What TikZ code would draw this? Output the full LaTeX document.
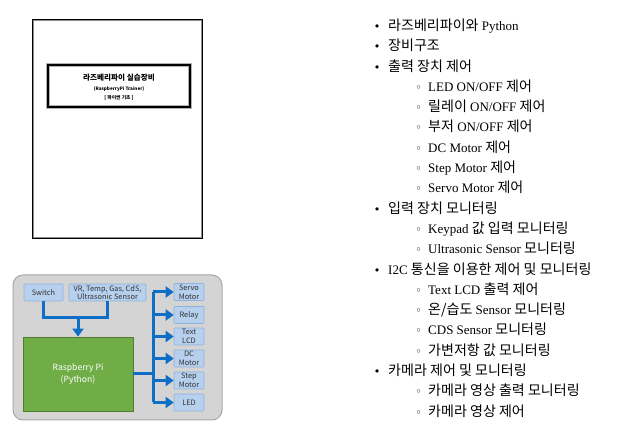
\documentclass[tikz,border=0pt]{standalone}
\usepackage{fontspec}
\setmainfont{Liberation Serif}
\newfontfamily\kr[Scale=1.08]{Noto Sans CJK KR}
\newfontfamily\krd{Noto Sans CJK KR}
\newfontfamily\bul{DejaVu Sans}
\usetikzlibrary{arrows.meta}
\definecolor{bgray}{HTML}{D4D4D4}
\definecolor{bedge}{HTML}{A8A8A8}
\definecolor{boxblue}{HTML}{B7D0EE}
\definecolor{boxedge}{HTML}{8FB2DC}
\definecolor{arrblue}{HTML}{0F6FC6}
\definecolor{rpgreen}{HTML}{70AD47}
\definecolor{rpedge}{HTML}{4F7F2E}
\tikzset{
  item/.style={anchor=base west,inner sep=0pt,font=\fontsize{13}{15}\selectfont},
  bl/.style={anchor=base,inner sep=0pt,font=\bul\fontsize{11}{12}\selectfont},
  blk/.style={rounded corners=0.8pt,draw=boxedge,line width=0.6pt,fill=boxblue,inner sep=0pt,
     align=center,font=\krd\fontsize{7.4}{8.6}\selectfont,text=black!80},
  rbox/.style={blk,minimum width=30pt,minimum height=17pt},
  bus/.style={draw=arrblue,line width=3pt},
  tip/.style={-{Triangle[length=8pt,width=11pt]}}
}
\begin{document}
\begin{tikzpicture}[x=1pt,y=-1pt]
\useasboundingbox (0,0) rectangle (619,443);
\fill[white] (0,0) rectangle (619,443);
% book cover
\draw[black!45,line width=0.6pt] (33,20) rectangle (201,237);
\draw[black,line width=0.9pt] (32,19) rectangle (202,238);
\draw[black!30,line width=3.2pt] (48,65) rectangle (190,107);
\draw[black,line width=2pt] (48,65) rectangle (190,107);
\node[inner sep=0pt,font=\krd\bfseries\fontsize{7.6}{8}\selectfont] (title) at (119,78) {라즈베리파이 실습장비};
\node[inner sep=0pt,font=\krd\bfseries\fontsize{4.6}{5}\selectfont] (sub) at (119,89) {(RaspberryPi Trainer)};
\node[inner sep=0pt,font=\krd\bfseries\fontsize{4.8}{5}\selectfont] (sub2) at (119,98) {[ 파이썬 기초 ]};
% diagram
\filldraw[fill=bgray,draw=bedge,line width=1pt,rounded corners=10pt] (13,275) rectangle (222,420);
\node[blk,minimum width=39pt,minimum height=17pt] (sw) at (43.5,292.5) {Switch};
\node[blk,minimum width=77pt,minimum height=17pt] (vr) at (107.5,292.5) {VR, Temp, Gas, CdS,\\Ultrasonic Sensor};
\node[draw=rpedge,line width=0.8pt,fill=rpgreen,minimum width=110pt,minimum height=74pt,inner sep=0pt,
      align=center,text=white,font=\krd\fontsize{8.6}{12.5}\selectfont] (rp) at (78,374) {Raspberry Pi\\(Python)};
\node[rbox] (servo) at (189,292) {Servo\\Motor};
\node[rbox] (relay) at (189,315) {Relay};
\node[rbox] (lcd) at (189,336.5) {Text\\LCD};
\node[rbox] (dc) at (189,358.5) {DC\\Motor};
\node[rbox] (step) at (189,380.5) {Step\\Motor};
\node[rbox] (led) at (189,402.5) {LED};
\coordinate (j) at (78,318);
\coordinate (bx) at (153,374);
\draw[bus] (sw.south) |- (j) -| (vr.south);
\draw[bus,tip] (j) -- (rp.north);
\draw[bus] (rp.east) -- (bx);
\draw[bus] (bx |- servo.west) -- (bx |- led.west);
\foreach \b in {servo,relay,lcd,dc,step,led}
  \draw[bus,tip] (bx |- \b.west) -- (\b.west);
% list
\def\ystep{20.3}
\foreach \lvl/\txt [count=\i from 0] in {
 1/{{\kr 라즈베리파이와} Python},
 1/{{\kr 장비구조}},
 1/{{\kr 출력 장치 제어}},
 2/{LED ON/OFF {\kr 제어}},
 2/{{\kr 릴레이} ON/OFF {\kr 제어}},
 2/{{\kr 부저} ON/OFF {\kr 제어}},
 2/{DC Motor {\kr 제어}},
 2/{Step Motor {\kr 제어}},
 2/{Servo Motor {\kr 제어}},
 1/{{\kr 입력 장치 모니터링}},
 2/{Keypad {\kr 값 입력 모니터링}},
 2/{Ultrasonic Sensor {\kr 모니터링}},
 1/{I2C {\kr 통신을 이용한 제어 및 모니터링}},
 2/{Text LCD {\kr 출력 제어}},
 2/{{\kr 온/습도} Sensor {\kr 모니터링}},
 2/{CDS Sensor {\kr 모니터링}},
 2/{{\kr 가변저항 값 모니터링}},
 1/{{\kr 카메라 제어 및 모니터링}},
 2/{{\kr 카메라 영상 출력 모니터링}},
 2/{{\kr 카메라 영상 제어}}}
{
  \pgfmathsetmacro{\yy}{25.5+\i*\ystep+5}
  \ifnum\lvl=1
    \node[bl] (b\i) at (377,\yy) {•};
    \node[item] (t\i) at (388,\yy) {\txt};
  \else
    \node[bl] (b\i) at (418.5,\yy) {◦};
    \node[item] (t\i) at (428,\yy) {\txt};
  \fi
}
\end{tikzpicture}
\end{document}
